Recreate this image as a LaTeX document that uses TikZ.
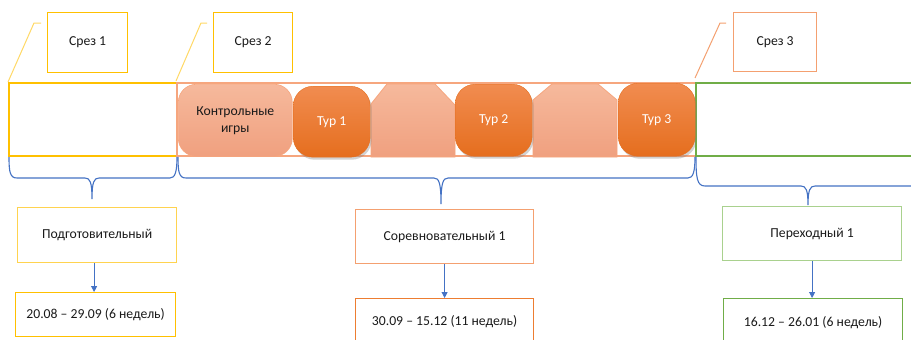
\documentclass[tikz,border=0pt]{standalone}
\usepackage{fontspec}
\setmainfont{Carlito}
\usetikzlibrary{shadows,arrows.meta}
\definecolor{gold}{HTML}{FFC000}
\definecolor{goldlt}{HTML}{FFD34F}
\definecolor{leadY}{HTML}{FFD966}
\definecolor{orng}{HTML}{ED7D31}
\definecolor{orngmid}{HTML}{F4A070}
\definecolor{orngband}{HTML}{F6A67E}
\definecolor{salmonT}{HTML}{F6B99C}
\definecolor{salmonB}{HTML}{F0A07F}
\definecolor{darkT}{HTML}{F18C50}
\definecolor{darkB}{HTML}{E56E1E}
\definecolor{grn}{HTML}{70AD47}
\definecolor{grnlt}{HTML}{A9D18E}
\definecolor{blu}{HTML}{4472C4}
\definecolor{txt}{HTML}{1A1A1A}
\tikzset{
  lbl/.style={font=\fontsize{13.7}{17}\selectfont, text=txt},
  frame/.style={draw, line width=1.2pt, fill=white, anchor=north west, inner sep=0pt, lbl, align=center},
  band/.style={draw, line width=1.1pt},
  softbox/.style={draw=orngband, line width=0.6pt, top color=salmonT, bottom color=salmonB, rounded corners=18pt},
  tourbox/.style={anchor=north west, inner sep=0pt, rounded corners=20pt, top color=darkT, bottom color=darkB,
     draw=darkB, line width=0.4pt, text=white, font=\fontsize{13.7}{17}\selectfont,
     drop shadow={opacity=0.35, shadow xshift=1.5pt, shadow yshift=-2.5pt}},
  leader/.style={line width=1pt},
  brace/.style={draw=blu, line width=1.1pt},
  arr/.style={draw=blu, line width=0.9pt, -{Triangle[length=6pt,width=6pt]}}
}
\begin{document}
\begin{tikzpicture}[x=1pt,y=-1pt]
\clip (0,0) rectangle (911,340);
\fill[white] (0,0) rectangle (911,340);

% main band
\draw[band, draw=gold] (9,83) rectangle (177,156);
\draw[band, draw=orngband] (177,83) rectangle (696,156);
\draw[band, draw=grn] (696,83) rectangle (920,156);

% control games
\node[softbox, anchor=north west, minimum width=114pt, minimum height=72pt, inner sep=0pt, lbl, align=center]
  (ctrl) at (178,84) {Контрольные\\игры};

% chamfered blocks
\path[draw=orngband, line width=0.8pt, top color=salmonT, bottom color=salmonB]
  (371,157) -- (371,104) -- (387,84) -- (435,84) -- (455,105) -- (455,157) -- cycle;
\path[draw=orngband, line width=0.8pt, top color=salmonT, bottom color=salmonB]
  (533,157) -- (533,100) -- (552,84) -- (598,84) -- (617,100) -- (617,157) -- cycle;

% tours
\node[tourbox, minimum width=77pt, minimum height=71pt] (t1) at (293,86) {Тур 1};
\node[tourbox, minimum width=77pt, minimum height=72pt] (t2) at (455,84) {Тур 2};
\node[tourbox, minimum width=77pt, minimum height=73pt] (t3) at (618,83) {Тур 3};

% cut boxes
\node[frame, draw=gold, minimum width=80pt, minimum height=60pt] (s1) at (47,12) {Срез 1};
\node[frame, draw=gold, minimum width=79pt, minimum height=60pt] (s2) at (213,12) {Срез 2};
\node[frame, draw=orngmid, minimum width=83pt, minimum height=59pt] (s3) at (733,12) {Срез 3};

% leaders
\coordinate (l1a) at (8,82); \coordinate (l1b) at (34,23); \coordinate (l1c) at (41,23);
\coordinate (l2a) at (176,81); \coordinate (l2b) at (201,23); \coordinate (l2c) at (207,23);
\coordinate (l3a) at (695,78); \coordinate (l3b) at (720,23); \coordinate (l3c) at (726,23);
\draw[leader, draw=leadY] (l1a) -- (l1b) -- (l1c);
\draw[leader, draw=leadY] (l2a) -- (l2b) -- (l2c);
\draw[leader, draw=orngmid] (l3a) -- (l3b) -- (l3c);

% braces
\draw[brace] (9,157) .. controls (9,172) and (10,178) .. (17,178) -- (85,178)
  .. controls (90,178) and (92,182) .. (92,199)
  .. controls (92,182) and (94,178) .. (99,178) -- (170,178)
  .. controls (175,178) and (177,172) .. (177,157);
\draw[brace] (178,157) .. controls (178,172) and (179,178) .. (186,178) -- (434,178)
  .. controls (439,178) and (441,183) .. (441,204)
  .. controls (441,183) and (443,178) .. (448,178) -- (688,178)
  .. controls (693,178) and (695,172) .. (695,157);
\draw[brace] (696,157) .. controls (696,178) and (697,186) .. (705,186) -- (801,186)
  .. controls (806,186) and (808,190) .. (808,205)
  .. controls (808,190) and (810,186) .. (815,186) -- (911,186) -- (920,186);

% phase boxes
\node[frame, draw=goldlt, minimum width=159pt, minimum height=55pt] (prep) at (17,207) {Подготовительный};
\node[frame, draw=gold, minimum width=160pt, minimum height=44pt] (d1) at (15,292) {20.08 – 29.09 (6 недель)};
\node[frame, draw=orngmid, minimum width=178pt, minimum height=54pt] (comp) at (355,209) {Соревновательный 1};
\node[frame, draw=orng, minimum width=178pt, minimum height=46pt] (d2) at (355,298) {30.09 – 15.12 (11 недель)};
\node[frame, draw=grnlt, minimum width=179pt, minimum height=54pt] (trans) at (722,206) {Переходный 1};
\node[frame, draw=grn, minimum width=179pt, minimum height=48pt] (d3) at (723,298) {16.12 – 26.01 (6 недель)};

% arrows
\draw[arr] ([xshift=-3pt]prep.south) -- ([xshift=-3pt]prep.south |- d1.north);
\draw[arr] (comp.south) -- (comp.south |- d2.north);
\draw[arr] (trans.south) -- (trans.south |- d3.north);
\end{tikzpicture}
\end{document}
